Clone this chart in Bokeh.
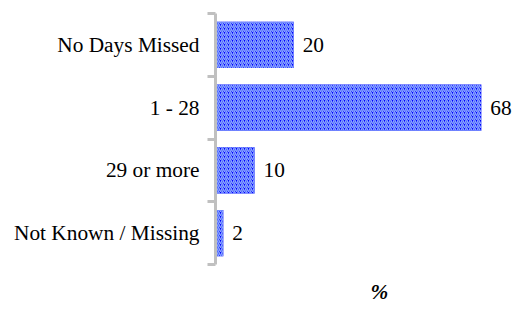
from bokeh.plotting import figure
from bokeh.models import Range1d, FixedTicker, Title, ColumnDataSource
from bokeh.core.properties import value
from bokeh.embed import file_html
from bokeh.resources import INLINE

categories = ["No Days Missed", "1 - 28", "29 or more", "Not Known / Missing"]
values = [20, 68, 10, 2]
axis_title = "%"

pos = [i + 0.5 for i in range(len(categories))]
bounds = [i for i in range(len(categories) + 1)]

src = ColumnDataSource(dict(y=pos, v=values, t=[str(v) for v in values]))

p = figure(width=516, height=316, output_backend="svg", toolbar_location=None,
           x_range=Range1d(0, 77), y_range=Range1d(len(categories), 0),
           min_border_left=215, min_border_right=0, min_border_top=13, min_border_bottom=0)
p.outline_line_color = None
p.grid.visible = False
p.xaxis.visible = False
p.background_fill_color = "white"

p.hbar(y="y", right="v", left=0, height=0.74, source=src,
       fill_color="#0000ff", line_color=None,
       hatch_pattern="/", hatch_color="#8aa8ff", hatch_scale=4, hatch_weight=1.5)

p.text(x="v", y="y", text="t", source=src, x_offset=9,
       text_align="left", text_baseline="middle",
       text_font=value("Liberation Serif"), text_font_size="16pt", text_color="black")

ya = p.yaxis[0]
ya.ticker = FixedTicker(ticks=pos, minor_ticks=bounds)
ya.major_label_overrides = {pos[i]: categories[i] for i in range(len(categories))}
ya.major_tick_line_color = None
ya.minor_tick_line_color = "#c0c0c0"
ya.minor_tick_line_width = 3
ya.minor_tick_in = 0
ya.minor_tick_out = 8
ya.axis_line_color = "#c0c0c0"
ya.axis_line_width = 3
ya.major_label_text_font = "Liberation Serif"
ya.major_label_text_font_size = "16pt"
ya.major_label_text_color = "black"
ya.major_label_standoff = 8

t = Title(text=axis_title, align="left", offset=155, standoff=26,
          text_font="Liberation Serif", text_font_size="16pt",
          text_font_style="bold italic", text_color="black")
p.add_layout(t, "below")

open("out.html", "w").write(file_html(p, INLINE))
